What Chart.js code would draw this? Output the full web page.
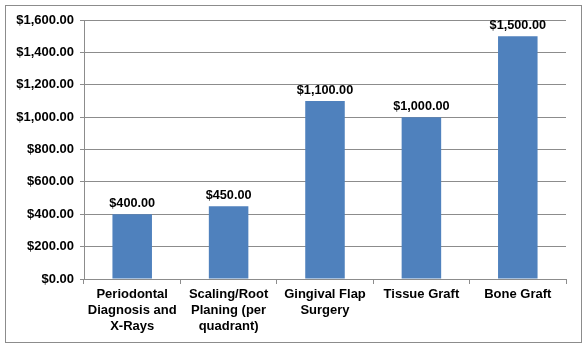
<!DOCTYPE html>
<html>
<head>
<meta charset="utf-8">
<script src="https://cdn.jsdelivr.net/npm/chart.js@4"></script>
<style>
  html, body { margin: 0; padding: 0; background: #fff; }
  #wrap { width: 588px; height: 348px; position: relative; }
</style>
</head>
<body>
<div id="wrap"><canvas id="costChart" width="588" height="348"></canvas></div>
<script>
// procedure costs
var procedures = [
  ['Periodontal', 'Diagnosis and', 'X-Rays'],
  ['Scaling/Root', 'Planing (per', 'quadrant)'],
  ['Gingival Flap', 'Surgery'],
  'Tissue Graft',
  'Bone Graft'
];
var costs = [400, 450, 1100, 1000, 1500];
var yMax = 1600;
var yStep = 200;

var FONT = '"Liberation Sans", Arial, sans-serif';

function money(v){
  return '$' + Number(v).toLocaleString('en-US', {minimumFractionDigits: 2, maximumFractionDigits: 2});
}

// outer frame around the whole chart
var framePlugin = {
  id: 'frame',
  afterDraw: function(chart){
    var ctx = chart.ctx;
    ctx.save();
    ctx.strokeStyle = '#8c8c8c';
    ctx.lineWidth = 1;
    ctx.strokeRect(5.5, 5.5, 576, 337);
    ctx.restore();
  }
};

// value labels above each bar
var valueLabels = {
  id: 'valueLabels',
  afterDatasetsDraw: function(chart){
    var ctx = chart.ctx;
    var meta = chart.getDatasetMeta(0);
    ctx.save();
    ctx.font = 'bold 12.7px ' + FONT;
    ctx.fillStyle = '#000';
    ctx.textAlign = 'center';
    ctx.textBaseline = 'bottom';
    meta.data.forEach(function(bar, i){
      ctx.fillText(money(costs[i]), bar.x, bar.y - 4);
    });
    ctx.restore();
  }
};

new Chart(document.getElementById('costChart'), {
  type: 'bar',
  data: {
    labels: procedures,
    datasets: [{
      data: costs,
      backgroundColor: '#4f81bd',
      borderWidth: 0,
      categoryPercentage: 1,
      barPercentage: 0.41
    }]
  },
  options: {
    responsive: false,
    animation: false,
    layout: { padding: { left: 0, right: 22, top: 20, bottom: 0 } },
    plugins: { legend: { display: false }, tooltip: { enabled: false } },
    scales: {
      x: {
        offset: true,
        grid: {
          offset: true,
          drawOnChartArea: false,
          color: '#8c8c8c',
          tickLength: 5
        },
        border: { color: '#8c8c8c' },
        ticks: {
          color: '#000',
          font: { family: FONT, size: 13, weight: 'bold', lineHeight: 1.2 },
          maxRotation: 0,
          autoSkip: false,
          padding: 3
        },
        afterFit: function(scale){ scale.height = 69; }
      },
      y: {
        min: 0,
        max: yMax,
        grid: {
          color: '#8c8c8c',
          tickLength: 4
        },
        border: { color: '#8c8c8c' },
        ticks: {
          stepSize: yStep,
          color: '#000',
          padding: 6,
          font: { family: FONT, size: 13, weight: 'bold' },
          callback: function(v){ return money(v); }
        },
        afterFit: function(scale){ scale.width = 84; }
      }
    }
  },
  plugins: [framePlugin, valueLabels]
});
</script>
</body>
</html>
